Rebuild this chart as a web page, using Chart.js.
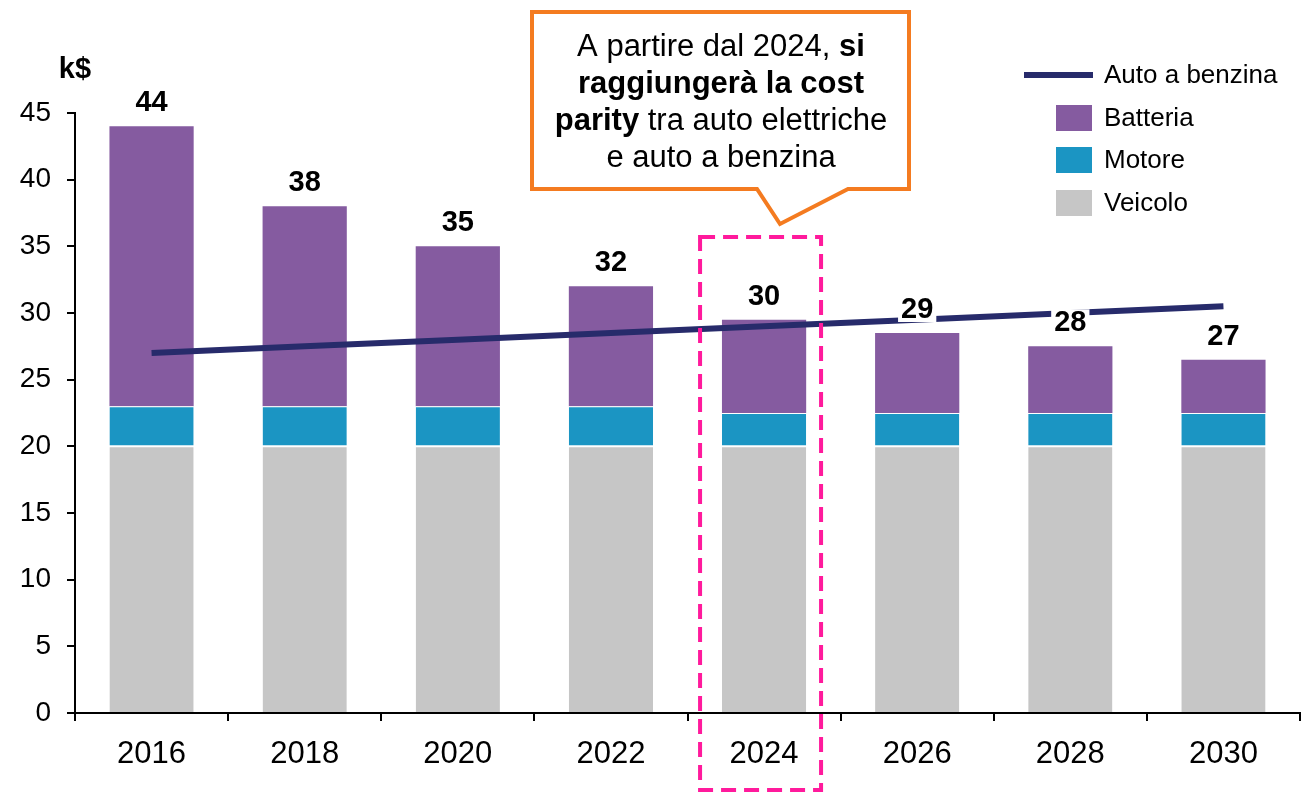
<!DOCTYPE html>
<html>
<head>
<meta charset="utf-8">
<script src="https://cdn.jsdelivr.net/npm/chart.js@4.4.1/dist/chart.umd.min.js"></script>
<style>
  html, body { margin: 0; padding: 0; background: #fff; }
  #wrap { width: 1312px; height: 793px; }
</style>
</head>
<body>
<div id="wrap"><canvas id="c" width="1312" height="793"></canvas></div>
<script>
const years = ['2016', '2018', '2020', '2022', '2024', '2026', '2028', '2030'];
const veicolo = [20, 20, 20, 20, 20, 20, 20, 20];
const motore = [3, 3, 3, 3, 2.5, 2.5, 2.5, 2.5];
const batteria = [21, 15, 12, 9, 7, 6, 5, 4];
const autoBenzina = [27, 27.5, 28, 28.5, 29, 29.5, 30, 30.5];
const totalLabels = ['44', '38', '35', '32', '30', '29', '28', '27'];
const yTicks = [0, 5, 10, 15, 20, 25, 30, 35, 40, 45];

const FONT = "'Liberation Sans', Arial, sans-serif";
const C_BATT = '#855ba0';
const C_MOT = '#1b95c3';
const C_VEI = '#c6c6c6';
const C_LINE = '#272b6b';

const overlay = {
  id: 'overlay',
  afterDatasetsDraw(chart) {
    const ctx = chart.ctx;
    const x = chart.scales.x, y = chart.scales.y;
    ctx.save();
    ctx.font = 'bold 29px ' + FONT;
    ctx.textAlign = 'center';
    ctx.textBaseline = 'middle';
    years.forEach((yr, i) => {
      const total = veicolo[i] + motore[i] + batteria[i];
      const px = x.getPixelForValue(i);
      const py = y.getPixelForValue(total) - 24;
      const w = ctx.measureText(totalLabels[i]).width;
      ctx.fillStyle = '#fff';
      ctx.fillRect(px - w / 2 - 3, py - 13, w + 6, 26);
      ctx.fillStyle = '#000';
      ctx.fillText(totalLabels[i], px, py + 1);
    });
    ctx.restore();
  },
  afterDraw(chart) {
    const ctx = chart.ctx;
    const x = chart.scales.x;
    ctx.save();
    ctx.font = 'bold 29px ' + FONT;
    ctx.fillStyle = '#000';
    ctx.textAlign = 'center';
    ctx.textBaseline = 'middle';
    ctx.fillText('k$', 75, 70);

    const cx = x.getPixelForValue(4);
    ctx.strokeStyle = '#ff1a9c';
    ctx.lineWidth = 4;
    ctx.setLineDash([15, 8]);
    ctx.strokeRect(cx - 64, 237, 121, 553);
    ctx.setLineDash([]);

    ctx.beginPath();
    ctx.moveTo(532, 12);
    ctx.lineTo(909, 12);
    ctx.lineTo(909, 189);
    ctx.lineTo(848, 189);
    ctx.lineTo(780, 224);
    ctx.lineTo(757, 189);
    ctx.lineTo(532, 189);
    ctx.closePath();
    ctx.fillStyle = '#fff';
    ctx.fill();
    ctx.strokeStyle = '#f47b20';
    ctx.lineWidth = 4;
    ctx.lineJoin = 'miter';
    ctx.stroke();

    const lines = [
      [['A partire dal 2024, ', false], ['si', true]],
      [['raggiungerà la cost', true]],
      [['parity', true], [' tra auto elettriche', false]],
      [['e auto a benzina', false]]
    ];
    const centerX = 721;
    const ys = [47, 84, 121, 158];
    ctx.textAlign = 'left';
    ctx.textBaseline = 'middle';
    ctx.fillStyle = '#000';
    lines.forEach((parts, li) => {
      let total = 0;
      parts.forEach(([t, b]) => {
        ctx.font = (b ? 'bold ' : '') + '31px ' + FONT;
        total += ctx.measureText(t).width;
      });
      let sx = centerX - total / 2;
      parts.forEach(([t, b]) => {
        ctx.font = (b ? 'bold ' : '') + '31px ' + FONT;
        ctx.fillText(t, sx, ys[li]);
        sx += ctx.measureText(t).width;
      });
    });

    const items = chart.data.datasets.slice().sort((a, b) => a.legendOrder - b.legendOrder);
    const rowY = [75, 118, 160, 203];
    ctx.font = '26px ' + FONT;
    items.forEach((ds, i) => {
      const ry = rowY[i];
      if (ds.type === 'line') {
        ctx.strokeStyle = ds.borderColor;
        ctx.lineWidth = 6;
        ctx.beginPath();
        ctx.moveTo(1024, ry);
        ctx.lineTo(1093, ry);
        ctx.stroke();
      } else {
        ctx.fillStyle = ds.backgroundColor;
        ctx.fillRect(1056, ry - 13, 36, 26);
      }
      ctx.fillStyle = '#000';
      ctx.fillText(ds.label, 1104, ry + 1);
    });
    ctx.restore();
  }
};

new Chart(document.getElementById('c'), {
  data: {
    labels: years,
    datasets: [
      {
        type: 'line', label: 'Auto a benzina', data: autoBenzina, stack: 'line',
        borderColor: C_LINE, borderWidth: 6, pointRadius: 0, tension: 0,
        order: 0, legendOrder: 0
      },
      {
        type: 'bar', label: 'Veicolo', data: veicolo, stack: 'bars',
        backgroundColor: C_VEI, borderColor: '#fff', borderWidth: { top: 1 },
        borderSkipped: 'bottom', order: 1, legendOrder: 3
      },
      {
        type: 'bar', label: 'Motore', data: motore, stack: 'bars',
        backgroundColor: C_MOT, borderColor: '#fff', borderWidth: { top: 1, bottom: 1 },
        borderSkipped: false, order: 1, legendOrder: 2
      },
      {
        type: 'bar', label: 'Batteria', data: batteria, stack: 'bars',
        backgroundColor: C_BATT, borderWidth: 0, order: 1, legendOrder: 1
      }
    ]
  },
  options: {
    responsive: false,
    devicePixelRatio: 1,
    animation: false,
    layout: { padding: { top: 113, right: 12, left: 0, bottom: 0 } },
    datasets: { bar: { barPercentage: 1, categoryPercentage: 0.55 } },
    plugins: { legend: { display: false }, tooltip: { enabled: false } },
    scales: {
      x: {
        stacked: true,
        offset: true,
        afterFit: (s) => { s.height = 80; },
        grid: { display: true, drawOnChartArea: false, offset: true, tickLength: 8, color: '#000', lineWidth: 2 },
        border: { display: true, color: '#000', width: 2 },
        ticks: { color: '#000', font: { family: FONT, size: 31 }, padding: 15 }
      },
      y: {
        stacked: true,
        min: 0, max: 45,
        afterFit: (s) => { s.width = 75; },
        afterBuildTicks: (s) => { s.ticks = yTicks.map(v => ({ value: v })); },
        grid: { display: true, drawOnChartArea: false, tickLength: 8, color: '#000', lineWidth: 2 },
        border: { display: true, color: '#000', width: 2 },
        ticks: { color: '#000', font: { family: FONT, size: 28 }, padding: 16 }
      }
    }
  },
  plugins: [overlay]
});
</script>
</body>
</html>
